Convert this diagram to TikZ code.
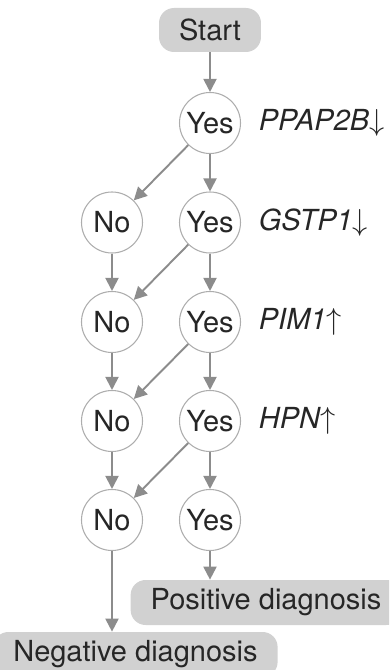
\documentclass[tikz,border=0pt]{standalone}
\usepackage{fontspec}
\setmainfont{TeX Gyre Heros}
\usetikzlibrary{arrows.meta,positioning}
\definecolor{boxgray}{gray}{0.82}
\definecolor{ringgray}{gray}{0.68}
\definecolor{arrowgray}{gray}{0.55}

\begin{document}
\begin{tikzpicture}[every node/.style={font=\fontsize{16.5}{19}\selectfont, text=black!85},
    answer/.style={circle, draw=ringgray, line width=0.6pt, minimum size=1.22cm, inner sep=0pt},
    endbox/.style={fill=boxgray, rounded corners=0.3cm, minimum height=0.9cm, inner xsep=0.4cm},
    flow/.style={-{Triangle[length=0.26cm,width=0.26cm]}, arrowgray, line width=1.1pt}]
        \clip (0,0) rectangle (7.78,-13.4);
        % start
        \node[endbox, minimum width=1.86cm, minimum height=0.88cm] (start) at (4.2,-0.6) {Start};
        % answers, one row per marker
        \foreach \i/\y in {1/-2.46,2/-4.45,3/-6.44,4/-8.42,5/-10.4}
          \node[answer] (yes\i) at (4.2,\y) {Yes};
        \foreach \i/\y in {2/-4.45,3/-6.44,4/-8.42,5/-10.4}
          \node[answer] (no\i) at (2.24,\y) {No};
        % markers
        \foreach \i/\m in {1/{\textit{PPAP2B}$\downarrow$},2/{\textit{GSTP1}$\downarrow$},
                           3/{\textit{PIM1}$\uparrow$},4/{\textit{HPN}$\uparrow$}}
          \node[right=0.35cm of yes\i, inner sep=0pt] (mark\i) {\m};
        % diagnoses
        \node[endbox] (pos) at (5.32,-12.05) {Positive diagnosis};
        \node[endbox] (neg) at (2.71,-13.09) {Negative diagnosis};
        % arrows
        \draw[flow] (start) -- (yes1);
        \foreach \i [count=\j from 2] in {1,...,4} {
          \draw[flow] (yes\i) -- (yes\j);
          \draw[flow] (yes\i) -- (no\j);
        }
        \foreach \i [count=\j from 3] in {2,3,4}
          \draw[flow] (no\i) -- (no\j);
        \draw[flow] (yes5) -- (yes5 |- pos.north);
        \draw[flow] (no5) -- (no5 |- neg.north);
      \end{tikzpicture}
\end{document}
